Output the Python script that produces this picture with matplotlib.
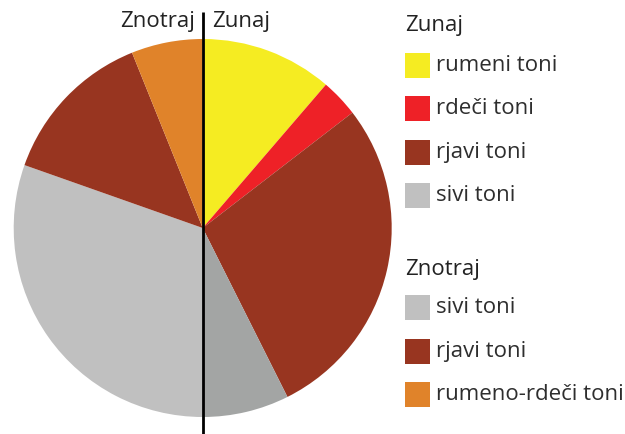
import matplotlib
matplotlib.use("Agg")
import matplotlib.pyplot as plt
from matplotlib.patches import Rectangle

plt.rcParams['font.family'] = ['Open Sans', 'DejaVu Sans']

# slice shares (percent of the whole), clockwise from 12 o'clock
slice_values = [11.3, 3.25, 28.05, 7.4, 30.4, 13.5, 6.1]
slice_colors = ['#f5ec22', '#ee2127', '#983520', '#a3a5a4',
                '#c0c0c0', '#983520', '#e0832a']

# legend groups
outer_title = 'Zunaj'
outer_labels = ['rumeni toni', 'rdeči toni', 'rjavi toni', 'sivi toni']
outer_colors = ['#f5ec22', '#ee2127', '#983520', '#c0c0c0']
inner_title = 'Znotraj'
inner_labels = ['sivi toni', 'rjavi toni', 'rumeno-rdeči toni']
inner_colors = ['#c0c0c0', '#983520', '#e0832a']

W, H = 625, 434
fig = plt.figure(figsize=(W / 100, H / 100), dpi=100)
ax = fig.add_axes([0, 0, 1, 1])

# pie drawn in pixel-like coordinates (y measured from the bottom)
cx, cy, r = 202.7, H - 228, 189
ax.pie(slice_values, colors=slice_colors, startangle=90, counterclock=False,
       center=(cx, cy), radius=r, frame=True,
       wedgeprops=dict(linewidth=0))
ax.set_xlim(0, W)
ax.set_ylim(0, H)
ax.axis('off')

# divider between inside and outside halves
ax.plot([cx, cx], [0, H - 12], color='black', linewidth=2, solid_capstyle='butt')
ax.text(cx + 9, H - 22, outer_title, fontsize=16, color='#222222',
        ha='left', va='center')
ax.text(cx - 8, H - 22, inner_title, fontsize=16, color='#222222',
        ha='right', va='center')


def draw_group(title, labels, colors, title_y, first_y, step):
    ax.text(405, H - title_y, title, fontsize=16, color='#222222',
            ha='left', va='center')
    for i, (lab, col) in enumerate(zip(labels, colors)):
        yc = first_y + i * step
        ax.add_patch(Rectangle((405, H - yc - 12.5), 25, 25, facecolor=col,
                               edgecolor='none'))
        ax.text(436, H - yc, lab, fontsize=16, color='#2e2e2e',
                ha='left', va='center')


draw_group(outer_title, outer_labels, outer_colors, 26, 65.5, 43.3)
draw_group(inner_title, inner_labels, inner_colors, 270, 307.5, 43.5)

fig.savefig('out.png', dpi=100)
